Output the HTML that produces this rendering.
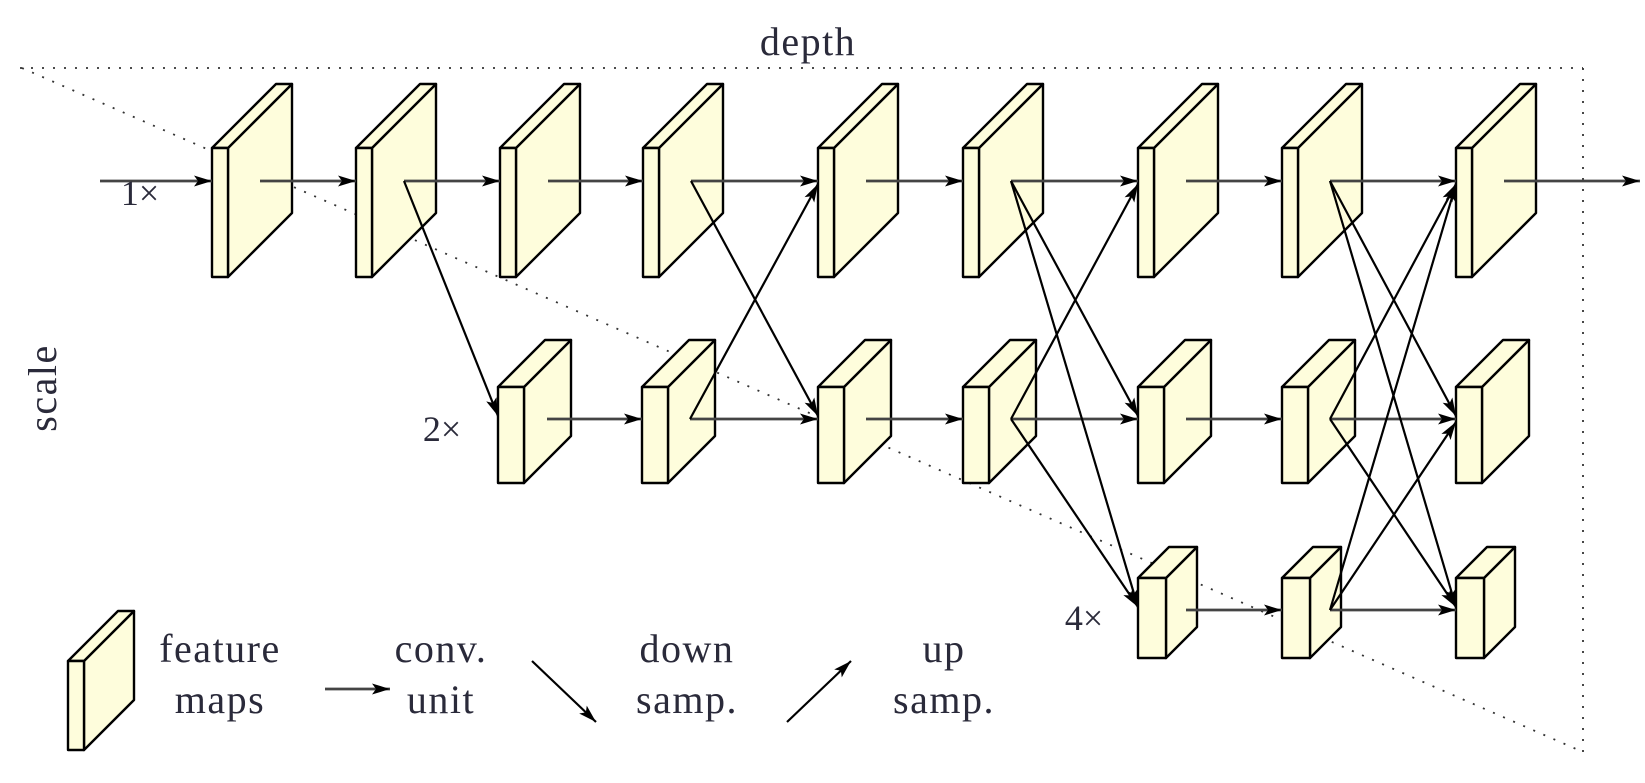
<!DOCTYPE html>
<html><head><meta charset="utf-8"><style>
html,body{margin:0;padding:0;background:#fff;}
svg{display:block;}
text{font-family:"Liberation Serif",serif;fill:#2a2a3a;}
</style></head><body>
<svg width="1645" height="783" viewBox="0 0 1645 783" xmlns="http://www.w3.org/2000/svg">
<defs>
<marker id="ah" markerUnits="userSpaceOnUse" markerWidth="20" markerHeight="14" refX="18" refY="7" orient="auto">
<path d="M0,1.5 L18,7 L0,12.5 L4,7 Z" fill="#000"/>
</marker>
<g id="bt" fill="#fefddc" stroke="#000" stroke-width="2.4" stroke-linejoin="round">
<polygon points="16,148 80,84 80,213 16,277"/><polygon points="0,148 64,84 80,84 16,148"/><rect x="0" y="148" width="16" height="129"/>
</g>
<g id="bm" fill="#fefddc" stroke="#000" stroke-width="2.4" stroke-linejoin="round">
<polygon points="26,387 73,340 73,436 26,483"/><polygon points="0,387 47,340 73,340 26,387"/><rect x="0" y="387" width="26" height="96"/>
</g>
<g id="bb" fill="#fefddc" stroke="#000" stroke-width="2.4" stroke-linejoin="round">
<polygon points="28,578 59,547 59,627 28,658"/><polygon points="0,578 31,547 59,547 28,578"/><rect x="0" y="578" width="28" height="80"/>
</g>
</defs>

<g stroke="#333" stroke-width="1.8" stroke-dasharray="2,9" fill="none">
<line x1="20" y1="68" x2="1583" y2="68"/>
<line x1="1583" y1="68" x2="1583" y2="755"/>
<line x1="22" y1="68" x2="1583" y2="752"/>
</g>

<use href="#bt" x="212"/><use href="#bt" x="356"/><use href="#bt" x="500"/><use href="#bt" x="643"/><use href="#bt" x="818"/><use href="#bt" x="963"/><use href="#bt" x="1138"/><use href="#bt" x="1282"/><use href="#bt" x="1456"/>
<use href="#bm" x="498"/><use href="#bm" x="642"/><use href="#bm" x="818"/><use href="#bm" x="963"/><use href="#bm" x="1138"/><use href="#bm" x="1282"/><use href="#bm" x="1456"/>
<use href="#bb" x="1138"/><use href="#bb" x="1282"/><use href="#bb" x="1456"/>

<g stroke="#444" stroke-width="2.8" marker-end="url(#ah)">
<line x1="100" y1="181" x2="212" y2="181"/>
<line x1="260" y1="181" x2="356" y2="181"/>
<line x1="404" y1="181" x2="500" y2="181"/>
<line x1="548" y1="181" x2="643" y2="181"/>
<line x1="691" y1="181" x2="818" y2="181"/>
<line x1="866" y1="181" x2="963" y2="181"/>
<line x1="1011" y1="181" x2="1138" y2="181"/>
<line x1="1186" y1="181" x2="1282" y2="181"/>
<line x1="1330" y1="181" x2="1456" y2="181"/>
<line x1="1504" y1="181" x2="1640" y2="181"/>
<line x1="547" y1="419" x2="642" y2="419"/>
<line x1="690" y1="419" x2="818" y2="419"/>
<line x1="866" y1="419" x2="963" y2="419"/>
<line x1="1011" y1="419" x2="1138" y2="419"/>
<line x1="1186" y1="419" x2="1282" y2="419"/>
<line x1="1330" y1="419" x2="1456" y2="419"/>
<line x1="1186" y1="610" x2="1282" y2="610"/>
<line x1="1330" y1="610" x2="1456" y2="610"/>
</g>
<g stroke="#000" stroke-width="2.2" marker-end="url(#ah)">
<line x1="404" y1="181" x2="498" y2="416"/>
<line x1="691" y1="181" x2="818" y2="416"/>
<line x1="690" y1="419" x2="818" y2="184"/>
<line x1="1011" y1="181" x2="1138" y2="416"/>
<line x1="1011" y1="181" x2="1138" y2="607"/>
<line x1="1011" y1="419" x2="1138" y2="184"/>
<line x1="1011" y1="419" x2="1138" y2="607"/>
<line x1="1330" y1="181" x2="1456" y2="416"/>
<line x1="1330" y1="181" x2="1456" y2="607"/>
<line x1="1330" y1="419" x2="1456" y2="184"/>
<line x1="1330" y1="419" x2="1456" y2="607"/>
<line x1="1330" y1="610" x2="1456" y2="184"/>
<line x1="1330" y1="610" x2="1456" y2="422"/>
</g>

<text x="808" y="55" font-size="40" letter-spacing="1.5" text-anchor="middle">depth</text>
<text x="140" y="205" font-size="36" text-anchor="middle">1×</text>
<text x="442" y="441" font-size="36" text-anchor="middle">2×</text>
<text x="1084" y="630" font-size="36" text-anchor="middle">4×</text>
<text x="0" y="0" font-size="40" letter-spacing="1.5" text-anchor="middle" transform="translate(56,388) rotate(-90)">scale</text>

<g fill="#fefddc" stroke="#000" stroke-width="2.4" stroke-linejoin="round">
<polygon points="84,661 134,611 134,700 84,750"/><polygon points="68,661 118,611 134,611 84,661"/><rect x="68" y="661" width="16" height="89"/>
</g>
<g font-size="40" letter-spacing="1.5" text-anchor="middle">
<text x="220" y="662">feature</text><text x="220" y="713">maps</text>
<text x="441" y="662">conv.</text><text x="441" y="713">unit</text>
<text x="687" y="662">down</text><text x="687" y="713">samp.</text>
<text x="944" y="662">up</text><text x="944" y="713">samp.</text>
</g>
<line x1="325" y1="689" x2="390" y2="689" stroke="#444" stroke-width="2.8" marker-end="url(#ah)"/>
<line x1="532" y1="661" x2="596" y2="722" stroke="#000" stroke-width="2.2" marker-end="url(#ah)"/>
<line x1="787" y1="722" x2="851" y2="661" stroke="#000" stroke-width="2.2" marker-end="url(#ah)"/>
</svg>
</body></html>
